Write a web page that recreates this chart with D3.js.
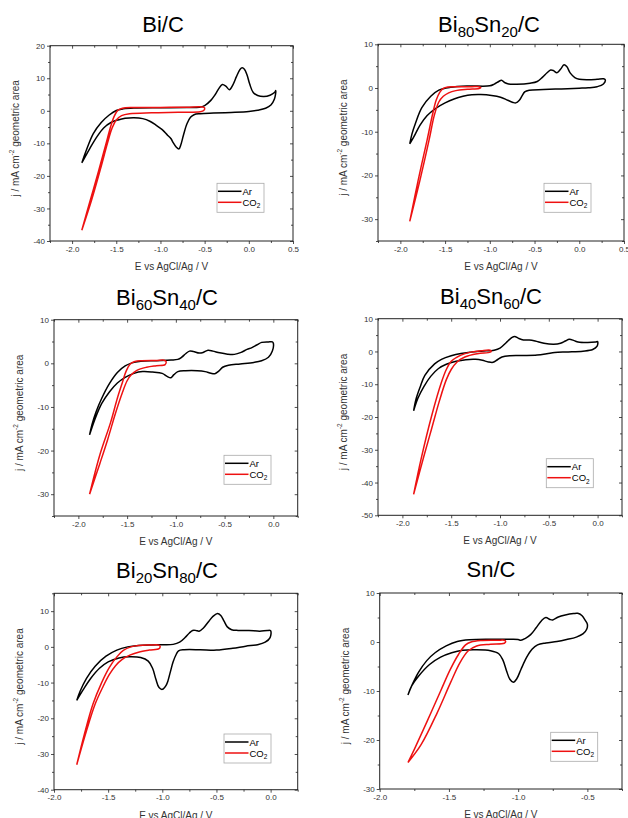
<!DOCTYPE html>
<html>
<head>
<meta charset="utf-8">
<script src="https://cdn.jsdelivr.net/npm/d3@7"></script>
<style>
  html,body{margin:0;padding:0;background:#fff;}
  svg{display:block;font-family:"Liberation Sans",Arial,sans-serif;}
</style>
</head>
<body>
<svg id="chart" width="628" height="818"></svg>
<script>
// ---------- DATA ([E / V, j / mA cm^-2]) ----------
const biC_Ar = [[-1.89,-16],[-1.84,-12.2],[-1.76,-7],[-1.67,-3.6],[-1.58,-1.3],[-1.5,0.1],[-1.42,0.6],[-1.3,0.85],[-1.0,0.95],[-0.7,1.0],[-0.56,1.1],[-0.5,1.6],[-0.43,3.2],[-0.38,5.0],[-0.34,6.8],[-0.30,8.1],[-0.26,7.6],[-0.22,6.5],[-0.18,8.0],[-0.14,10.5],[-0.10,12.7],[-0.075,13.2],[-0.05,12.8],[-0.02,11.0],[0.01,8.2],[0.05,5.6],[0.1,4.7],[0.17,4.4],[0.24,4.8],[0.29,5.6],[0.305,6.2],[0.29,3.6],[0.25,1.8],[0.19,0.8],[0.1,0.2],[0.0,-0.2],[-0.2,-0.5],[-0.4,-0.7],[-0.55,-0.9],[-0.62,-1.2],[-0.66,-2.0],[-0.70,-4.0],[-0.74,-7.5],[-0.77,-10.5],[-0.79,-11.7],[-0.82,-11.2],[-0.86,-9.6],[-0.88,-8.6],[-0.92,-7.5],[-0.98,-5.8],[-1.05,-4.4],[-1.12,-3.2],[-1.2,-2.4],[-1.3,-2.1],[-1.4,-2.3],[-1.48,-2.8],[-1.56,-3.6],[-1.64,-5.2],[-1.72,-8.0],[-1.8,-11.6],[-1.89,-16]];
const biC_CO2 = [[-1.89,-36.7],[-1.8,-28],[-1.7,-18.5],[-1.62,-10.5],[-1.56,-4.5],[-1.52,-1.5],[-1.48,0.2],[-1.43,0.8],[-1.3,1.0],[-1.0,1.05],[-0.7,1.1],[-0.53,1.2],[-0.5,0.9],[-0.51,0.1],[-0.55,-0.3],[-0.8,-0.45],[-1.1,-0.6],[-1.35,-0.9],[-1.44,-1.5],[-1.5,-2.8],[-1.55,-5.5],[-1.6,-10],[-1.68,-18],[-1.78,-27.5],[-1.89,-36.7]];

const bi80_Ar = [[-1.895,-12.8],[-1.87,-10.5],[-1.83,-8],[-1.76,-4.5],[-1.66,-1.9],[-1.57,-0.5],[-1.44,0.15],[-1.25,0.45],[-1.0,0.5],[-0.95,0.9],[-0.9,1.5],[-0.87,1.75],[-0.83,1.2],[-0.79,0.9],[-0.7,0.85],[-0.55,1.1],[-0.47,1.5],[-0.41,2.5],[-0.36,3.5],[-0.32,4.1],[-0.29,4.0],[-0.25,3.5],[-0.21,4.3],[-0.17,5.3],[-0.14,4.9],[-0.1,3.4],[-0.05,2.4],[0.0,2.0],[0.1,1.9],[0.2,2.0],[0.27,2.1],[0.29,1.9],[0.27,0.9],[0.2,0.3],[0.1,0.05],[0.0,-0.05],[-0.2,-0.2],[-0.4,-0.35],[-0.56,-0.5],[-0.61,-0.9],[-0.64,-1.8],[-0.67,-2.8],[-0.71,-3.4],[-0.74,-3.3],[-0.8,-2.8],[-0.88,-2.1],[-0.98,-1.7],[-1.1,-1.5],[-1.2,-1.55],[-1.3,-1.9],[-1.4,-2.5],[-1.5,-3.4],[-1.6,-4.6],[-1.7,-6.3],[-1.78,-8.5],[-1.85,-11.2],[-1.895,-12.8]];
const bi80_CO2 = [[-1.895,-30.5],[-1.8,-21],[-1.7,-11.8],[-1.64,-6],[-1.6,-2.8],[-1.56,-1.0],[-1.52,-0.1],[-1.47,0.25],[-1.35,0.3],[-1.2,0.3],[-1.12,0.3],[-1.1,0.1],[-1.12,-0.1],[-1.25,-0.3],[-1.38,-0.6],[-1.46,-1.1],[-1.52,-1.9],[-1.57,-3.2],[-1.62,-6.2],[-1.68,-12],[-1.78,-21],[-1.895,-30.5]];

const bi60_Ar = [[-1.885,-16.4],[-1.86,-14],[-1.82,-11.2],[-1.76,-8],[-1.68,-4.6],[-1.6,-2.1],[-1.52,-0.6],[-1.45,0.1],[-1.36,0.45],[-1.2,0.6],[-1.05,0.75],[-0.98,0.9],[-0.94,1.4],[-0.9,2.2],[-0.86,2.8],[-0.82,2.7],[-0.76,2.35],[-0.72,2.5],[-0.67,3.0],[-0.62,2.8],[-0.55,2.4],[-0.47,2.1],[-0.4,2.05],[-0.33,2.5],[-0.27,3.2],[-0.22,3.6],[-0.17,4.2],[-0.12,4.8],[-0.05,4.9],[-0.01,4.9],[0.0,4.6],[-0.01,2.8],[-0.05,1.4],[-0.12,0.6],[-0.2,0.2],[-0.34,-0.15],[-0.46,-0.45],[-0.52,-0.9],[-0.56,-1.8],[-0.6,-2.4],[-0.64,-2.3],[-0.7,-1.9],[-0.78,-1.7],[-0.9,-1.7],[-0.98,-1.9],[-1.02,-2.6],[-1.05,-3.3],[-1.09,-3.0],[-1.14,-2.3],[-1.24,-2.0],[-1.34,-1.9],[-1.43,-2.3],[-1.52,-3.2],[-1.6,-4.5],[-1.68,-6.5],[-1.76,-9.2],[-1.83,-12.8],[-1.885,-16.4]];
const bi60_CO2 = [[-1.885,-30],[-1.78,-21],[-1.67,-13.6],[-1.6,-8],[-1.55,-4.5],[-1.51,-1.8],[-1.47,-0.2],[-1.42,0.4],[-1.35,0.6],[-1.2,0.65],[-1.12,0.7],[-1.1,0.4],[-1.11,-0.3],[-1.2,-0.55],[-1.3,-0.9],[-1.4,-1.6],[-1.46,-2.7],[-1.5,-4.0],[-1.55,-6.8],[-1.62,-11.5],[-1.7,-17.5],[-1.78,-23],[-1.885,-30]];

const bi40_Ar = [[-1.885,-18.1],[-1.86,-14.5],[-1.82,-11],[-1.77,-7.3],[-1.67,-3.8],[-1.6,-2.4],[-1.5,-1.3],[-1.4,-0.6],[-1.3,-0.2],[-1.19,0.1],[-1.06,0.4],[-1.0,1.0],[-0.94,2.6],[-0.88,4.2],[-0.85,4.6],[-0.81,4.0],[-0.76,3.5],[-0.7,3.5],[-0.64,3.2],[-0.55,2.5],[-0.45,2.2],[-0.38,2.5],[-0.33,3.2],[-0.29,3.7],[-0.24,3.3],[-0.2,2.9],[-0.1,2.75],[-0.02,2.9],[0.0,3.0],[-0.005,1.6],[-0.05,0.6],[-0.15,0.1],[-0.3,-0.15],[-0.44,-0.3],[-0.52,-0.7],[-0.62,-1.1],[-0.75,-1.25],[-0.9,-1.3],[-0.98,-1.7],[-1.03,-2.6],[-1.07,-3.3],[-1.12,-3.2],[-1.18,-2.7],[-1.25,-2.4],[-1.35,-2.5],[-1.45,-3.0],[-1.55,-3.9],[-1.63,-5.2],[-1.71,-7.6],[-1.78,-10.7],[-1.84,-14.2],[-1.885,-18.1]];
const bi40_CO2 = [[-1.885,-43.6],[-1.81,-33],[-1.7,-19.6],[-1.6,-9.4],[-1.55,-5.5],[-1.5,-3.0],[-1.4,-1.1],[-1.3,-0.2],[-1.19,0.25],[-1.1,0.4],[-1.09,0.1],[-1.1,-0.2],[-1.23,-0.7],[-1.36,-1.7],[-1.44,-3.2],[-1.5,-5.5],[-1.55,-8.6],[-1.62,-15],[-1.7,-23.5],[-1.78,-32],[-1.885,-43.6]];

const bi20_Ar = [[-1.79,-15],[-1.76,-12.5],[-1.7,-8.8],[-1.62,-5.4],[-1.52,-2.6],[-1.42,-0.9],[-1.32,0.0],[-1.22,0.4],[-1.1,0.55],[-1.0,0.6],[-0.9,0.7],[-0.84,1.3],[-0.79,2.6],[-0.75,3.9],[-0.72,4.6],[-0.69,4.6],[-0.66,4.4],[-0.62,5.3],[-0.57,7.2],[-0.53,8.6],[-0.49,9.35],[-0.46,8.8],[-0.43,7.2],[-0.4,5.6],[-0.36,4.8],[-0.3,4.6],[-0.2,4.6],[-0.1,4.4],[-0.03,4.6],[0.0,4.5],[-0.005,2.6],[-0.05,1.3],[-0.12,0.6],[-0.23,0.2],[-0.35,-0.4],[-0.5,-0.9],[-0.65,-0.8],[-0.8,-0.8],[-0.85,-1.1],[-0.87,-2.0],[-0.9,-4.2],[-0.93,-7.5],[-0.96,-10.5],[-1.0,-11.9],[-1.03,-11.4],[-1.06,-9],[-1.09,-6],[-1.13,-4.0],[-1.2,-3.0],[-1.3,-2.8],[-1.4,-3.1],[-1.5,-4.2],[-1.58,-6.0],[-1.66,-8.8],[-1.73,-12],[-1.79,-15]];
const bi20_CO2 = [[-1.79,-33],[-1.72,-24.5],[-1.64,-16],[-1.56,-10],[-1.49,-5.8],[-1.42,-2.8],[-1.36,-1.0],[-1.29,0.0],[-1.22,0.4],[-1.12,0.5],[-1.03,0.5],[-1.02,0.1],[-1.03,-0.5],[-1.12,-0.9],[-1.22,-1.5],[-1.3,-2.3],[-1.37,-3.5],[-1.43,-5.2],[-1.49,-7.8],[-1.55,-11.3],[-1.62,-16],[-1.7,-23.5],[-1.79,-33]];

const snC_Ar = [[-1.796,-10.8],[-1.77,-9.0],[-1.72,-6.2],[-1.66,-3.8],[-1.6,-2.2],[-1.52,-0.8],[-1.44,0.1],[-1.35,0.45],[-1.2,0.55],[-1.05,0.55],[-1.0,0.5],[-0.98,0.35],[-0.95,0.7],[-0.91,1.5],[-0.87,2.9],[-0.83,4.4],[-0.8,5.0],[-0.77,4.6],[-0.75,4.5],[-0.71,5.1],[-0.66,5.5],[-0.6,5.8],[-0.57,5.85],[-0.54,5.4],[-0.515,4.4],[-0.5,3.6],[-0.505,2.6],[-0.53,1.7],[-0.58,1.0],[-0.65,0.5],[-0.72,0.1],[-0.8,-0.2],[-0.86,-0.6],[-0.9,-1.5],[-0.94,-3.2],[-0.98,-5.6],[-1.01,-7.5],[-1.035,-8.2],[-1.06,-7.6],[-1.085,-5.8],[-1.11,-3.7],[-1.14,-2.4],[-1.2,-1.8],[-1.3,-1.6],[-1.4,-1.7],[-1.48,-2.2],[-1.56,-3.1],[-1.64,-4.6],[-1.72,-7.0],[-1.77,-9.0],[-1.796,-10.8]];
const snC_CO2 = [[-1.796,-24.6],[-1.75,-21.9],[-1.656,-16.1],[-1.56,-10],[-1.49,-5.6],[-1.43,-2.5],[-1.38,-0.6],[-1.34,0.0],[-1.27,0.3],[-1.15,0.35],[-1.1,0.35],[-1.09,0.1],[-1.1,-0.25],[-1.2,-0.45],[-1.3,-0.8],[-1.36,-1.8],[-1.42,-4.2],[-1.49,-8.4],[-1.584,-14.4],[-1.7,-20.9],[-1.796,-24.6]];

// titles (text, isSubscript)
const titleBiC = [["Bi/C",false]];
const titleBi80 = [["Bi",false],["80",true],["Sn",false],["20",true],["/C",false]];
const titleBi60 = [["Bi",false],["60",true],["Sn",false],["40",true],["/C",false]];
const titleBi40 = [["Bi",false],["40",true],["Sn",false],["60",true],["/C",false]];
const titleBi20 = [["Bi",false],["20",true],["Sn",false],["80",true],["/C",false]];
const titleSnC = [["Sn/C",false]];

// axis ticks
const xTicksA = [-2.0,-1.5,-1.0,-0.5,0.0,0.5];
const xTicksB = [-2.0,-1.5,-1.0,-0.5,0.0];
const xTicksC = [-2.0,-1.5,-1.0,-0.5];
const yTicks1 = [-40,-30,-20,-10,0,10,20];
const yTicks2 = [-30,-20,-10,0,10];
const yTicks4 = [-50,-40,-30,-20,-10,0,10];
const yTicks5 = [-40,-30,-20,-10,0,10];
const yTicks6 = [-30,-20,-10,0,10];

const seriesNames = ["Ar", "CO2"];
const seriesColors = ["#000000", "#ee1111"];

// ---------- LAYOUT ----------
const panels = [
  {title:titleBiC, ar:biC_Ar, co2:biC_CO2, xd:[-2.25,0.5], yd:[-40,20], xt:xTicksA, yt:yTicks1, l:50, r:293, t:45.7, b:241, tx:163, ty:32, lg:[217,183.3]},
  {title:titleBi80, ar:bi80_Ar, co2:bi80_CO2, xd:[-2.25,0.5], yd:[-35,10], xt:xTicksA, yt:yTicks2, l:378, r:624, t:44.3, b:241, tx:489, ty:32, lg:[544,183.3]},
  {title:titleBi60, ar:bi60_Ar, co2:bi60_CO2, xd:[-2.25,0.25], yd:[-35,10], xt:xTicksB, yt:yTicks2, l:54, r:297.7, t:319.7, b:516, tx:167, ty:305, lg:[224,455.3]},
  {title:titleBi40, ar:bi40_Ar, co2:bi40_CO2, xd:[-2.25,0.25], yd:[-50,10], xt:xTicksB, yt:yTicks4, l:378, r:622, t:318.7, b:515.3, tx:491, ty:304, lg:[546.3,458.7]},
  {title:titleBi20, ar:bi20_Ar, co2:bi20_CO2, xd:[-2.0,0.25], yd:[-40,15], xt:xTicksB, yt:yTicks5, l:54, r:297.7, t:593.3, b:789.7, tx:167, ty:578, lg:[224,734]},
  {title:titleSnC, ar:snC_Ar, co2:snC_CO2, xd:[-2.0,-0.25], yd:[-30,10], xt:xTicksC, yt:yTicks6, l:379.7, r:622, t:593, b:789, tx:491, ty:577, lg:[550.7,732.3]}
];

const svg = d3.select("#chart");
const fmtX = d => d.toFixed(1);
const fmtY = d => String(d);

function minorVals(ticks, domain){
  const step = ticks[1]-ticks[0];
  const out = [];
  const start = Math.ceil((domain[0]-1e-9)/(step/2))*(step/2);
  for(let v=start; v<=domain[1]+1e-9; v+=step/2){
    const isMajor = ticks.some(t=>Math.abs(t-v)<1e-6);
    if(!isMajor) out.push(+v.toFixed(4));
  }
  return out;
}

panels.forEach(p=>{
  const g = svg.append("g");
  const x = d3.scaleLinear().domain(p.xd).range([p.l,p.r]);
  const y = d3.scaleLinear().domain(p.yd).range([p.b,p.t]);

  // title
  const tt = g.append("text").attr("x",p.tx).attr("y",p.ty).attr("text-anchor","middle")
    .attr("font-size",22).attr("fill","#000");
  p.title.forEach(([s,sub])=>{
    const ts = tt.append("tspan").text(s);
    if(sub) ts.attr("font-size",15).attr("dy",5);
    else ts.attr("dy", tt.selectAll("tspan").size()>1 ? -5 : 0);
  });

  const xMinor = minorVals(p.xt, p.xd);
  const yMinor = minorVals(p.yt, p.yd);

  const styleAxis = sel => {
    sel.select(".domain").remove();
    sel.selectAll("line").attr("stroke","#222").attr("stroke-width",0.8);
    sel.selectAll("text").attr("font-family","Liberation Sans, Arial, sans-serif").attr("font-size",8).attr("fill","#333");
  };

  // bottom
  g.append("g").attr("transform",`translate(0,${p.b})`)
    .call(d3.axisBottom(x).tickValues(p.xt).tickFormat(fmtX).tickSize(3).tickPadding(2)).call(styleAxis);
  g.append("g").attr("transform",`translate(0,${p.b})`)
    .call(d3.axisBottom(x).tickValues(xMinor).tickFormat("").tickSize(2)).call(styleAxis);
  // top (inward)
  g.append("g").attr("transform",`translate(0,${p.t})`)
    .call(d3.axisTop(x).tickValues(p.xt).tickFormat("").tickSize(-3)).call(styleAxis);
  g.append("g").attr("transform",`translate(0,${p.t})`)
    .call(d3.axisTop(x).tickValues(xMinor).tickFormat("").tickSize(-2)).call(styleAxis);
  // left
  g.append("g").attr("transform",`translate(${p.l},0)`)
    .call(d3.axisLeft(y).tickValues(p.yt).tickFormat(fmtY).tickSize(3).tickPadding(2)).call(styleAxis);
  g.append("g").attr("transform",`translate(${p.l},0)`)
    .call(d3.axisLeft(y).tickValues(yMinor).tickFormat("").tickSize(2)).call(styleAxis);
  // right (inward)
  g.append("g").attr("transform",`translate(${p.r},0)`)
    .call(d3.axisRight(y).tickValues(p.yt).tickFormat("").tickSize(-3)).call(styleAxis);
  g.append("g").attr("transform",`translate(${p.r},0)`)
    .call(d3.axisRight(y).tickValues(yMinor).tickFormat("").tickSize(-2)).call(styleAxis);

  // frame
  g.append("rect").attr("x",p.l).attr("y",p.t).attr("width",p.r-p.l).attr("height",p.b-p.t)
    .attr("fill","none").attr("stroke","#222").attr("stroke-width",1);

  // axis labels
  g.append("text").attr("x",(p.l+p.r)/2).attr("y",p.b+29).attr("text-anchor","middle")
    .attr("font-size",10).attr("fill","#333").text("E vs AgCl/Ag / V");
  const yl = g.append("text").attr("transform",`translate(${p.l-34},${(p.t+p.b)/2-5}) rotate(-90)`)
    .attr("text-anchor","middle").attr("dominant-baseline","middle").attr("font-size",10).attr("fill","#333");
  yl.append("tspan").text("j / mA cm");
  yl.append("tspan").text("-2").attr("font-size",6.5).attr("dy",-4);
  yl.append("tspan").text(" geometric area").attr("dy",4);

  // curves
  const line = d3.line().x(d=>x(d[0])).y(d=>y(d[1])).curve(d3.curveCatmullRom.alpha(0.5));
  [p.ar, p.co2].forEach((data,i)=>{
    g.append("path").datum(data).attr("d",line).attr("fill","none")
      .attr("stroke",seriesColors[i]).attr("stroke-width",1.5).attr("stroke-linejoin","round");
  });

  // legend
  const lg = g.append("g").attr("transform",`translate(${p.lg[0]},${p.lg[1]})`);
  lg.append("rect").attr("width",47).attr("height",29).attr("fill","#fff").attr("stroke","#aaa").attr("stroke-width",0.8);
  seriesNames.forEach((n,i)=>{
    const yy = 8 + i*11;
    lg.append("line").attr("x1",1).attr("x2",24.5).attr("y1",yy).attr("y2",yy)
      .attr("stroke",seriesColors[i]).attr("stroke-width",1.5);
    const t = lg.append("text").attr("x",25.5).attr("y",yy+3.5).attr("font-size",9.5).attr("fill","#000");
    if(n==="CO2"){
      t.append("tspan").text("CO");
      t.append("tspan").text("2").attr("font-size",6.5).attr("dy",2.5);
    } else t.text(n);
  });
});
</script>
</body>
</html>
